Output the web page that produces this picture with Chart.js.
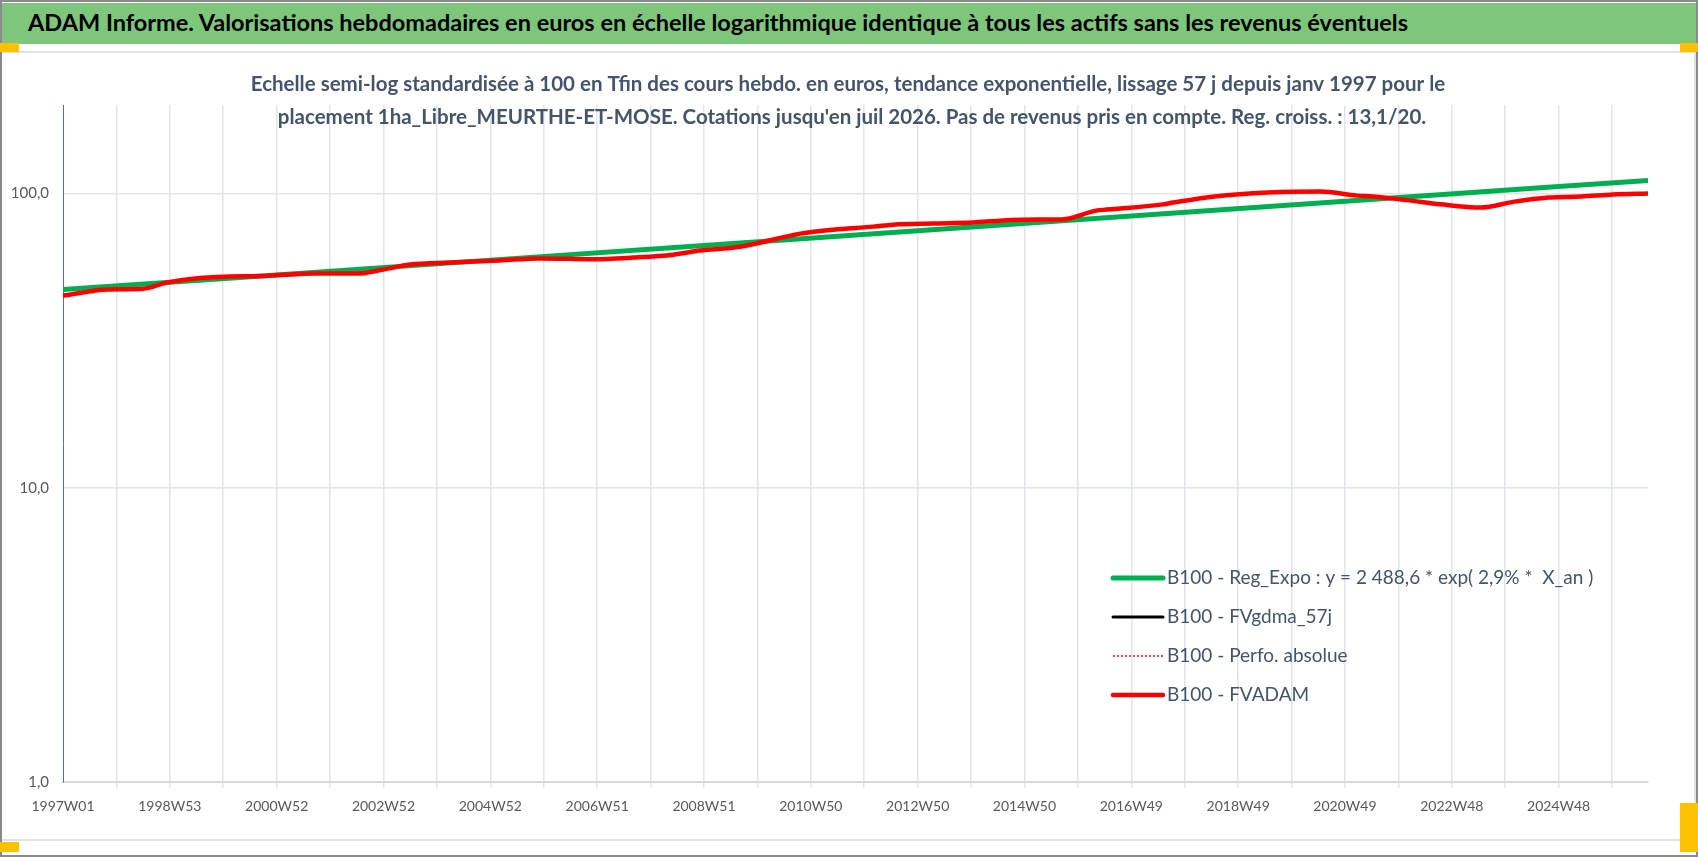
<!DOCTYPE html>
<html lang="fr">
<head>
<meta charset="utf-8">
<title>ADAM Informe</title>
<script src="https://cdn.jsdelivr.net/npm/chart.js@4.4.1/dist/chart.umd.min.js"></script>
<style>
  html, body { margin: 0; padding: 0; background: #fff; }
  #page { position: relative; width: 1698px; height: 857px; overflow: hidden; font-family: Lato, "Open Sans", sans-serif; }
  #frame { position: absolute; left: 0; top: 0; width: 1698px; height: 857px; box-sizing: border-box; border: 2px solid #8a8a8a; z-index: 3; pointer-events: none; }
  #header { position: absolute; left: 2px; top: 3px; width: 1694px; height: 41px; background: #7dc67b; }
  #header span { position: absolute; left: 26px; top: 5px; font-weight: bold; font-size: 23.5px; color: #000; white-space: nowrap; }
  #box { position: absolute; left: 2px; top: 51px; width: 1692px; height: 786px; border-top: 2px solid #e2e2e2; border-bottom: 2px solid #e2e2e2; border-right: 2px solid #e2e2e2; }
  #chart { position: absolute; left: 0; top: 0; }
  .handle { position: absolute; background: #ffc000; z-index: 4; }
</style>
</head>
<body>
<div id="page">
  <div id="header"><span>ADAM Informe. Valorisations hebdomadaires en euros en échelle logarithmique identique à tous les actifs sans les revenus éventuels</span></div>
  <div id="box"><canvas id="chart" width="1692" height="786"></canvas></div>
  <div class="handle" style="left:0;top:43px;width:19px;height:9px"></div>
  <div class="handle" style="left:1680px;top:43px;width:18px;height:9px"></div>
  <div class="handle" style="left:0;top:842px;width:19px;height:10px"></div>
  <div class="handle" style="left:1680px;top:803px;width:18px;height:49px"></div>
  <div id="frame"></div>
</div>
<script>
// tick labels (one every 104 weeks)
const xLabels = ["1997W01", "1998W53", "2000W52", "2002W52", "2004W52", "2006W51", "2008W51",
  "2010W50", "2012W50", "2014W50", "2016W49", "2018W49", "2020W49", "2022W48", "2024W48"];
const yTicks = [1, 10, 100];
const lastWeek = 1543;

const titleLines = [
  "Echelle semi-log standardisée à 100 en Tfin des cours hebdo. en euros, tendance exponentielle, lissage 57 j depuis janv 1997 pour le",
  "placement 1ha_Libre_MEURTHE-ET-MOSE. Cotations jusqu'en juil 2026. Pas de revenus pris en compte. Reg. croiss. : 13,1/20."
];

// week index since 1997W01
const regWeeks = [0, 208, 416, 624, 832, 1040, 1248, 1456, 1543];
const regValues = [47.2, 52.9, 59.4, 66.6, 74.7, 83.9, 94.1, 105.6, 110.7];

const gdmaWeeks = [];
const gdmaValues = [];

const perfoWeeks = [];
const perfoValues = [];

const adamWeeks = [0, 44, 78, 101, 133, 199, 247, 287, 312, 338, 377, 425, 464, 516, 555, 594,
  620, 659, 718, 750, 789, 808, 847, 886, 912, 951, 971, 1006, 1016, 1069, 1081, 1121, 1173,
  1224, 1260, 1275, 1308, 1341, 1380, 1413, 1446, 1478, 1509, 1543];
const adamValues = [45.0, 47.2, 47.5, 49.8, 51.6, 52.6, 53.5, 53.5, 55.2, 57.4, 58.3, 59.2, 60.2,
  59.8, 60.6, 62.0, 64.0, 66.0, 73.1, 75.4, 77.2, 78.4, 79.1, 79.7, 80.9, 81.6, 81.6, 87.5, 88.2,
  91.7, 93.2, 97.7, 100.8, 101.6, 98.4, 97.7, 95.0, 91.9, 89.6, 93.9, 96.9, 97.7, 99.2, 100];

function toPoints(xs, ys) {
  return xs.map((x, i) => ({ x: x, y: ys[i] }));
}

const textColor = "#44546a";
const gridColor = "#e1e4ea";

const titlePlugin = {
  id: "twoLineTitle",
  afterDraw(chart) {
    const ctx = chart.ctx;
    ctx.save();
    ctx.font = "bold 20.5px Lato";
    ctx.fillStyle = textColor;
    ctx.textAlign = "center";
    ctx.textBaseline = "middle";
    ctx.fillText(titleLines[0], chart.width / 2, 31);
    ctx.fillText(titleLines[1], chart.width / 2 + 4, 64);
    ctx.restore();
  }
};

// legend drawn inside the plot, bottom right
const legendPlugin = {
  id: "innerLegend",
  afterDraw(chart) {
    const ctx = chart.ctx;
    const x0 = 1111, len = 50, top = 525, step = 39;
    ctx.save();
    ctx.font = "19px Lato";
    ctx.textBaseline = "middle";
    ctx.textAlign = "left";
    chart.data.datasets.forEach((ds, i) => {
      const y = top + i * step;
      ctx.beginPath();
      ctx.strokeStyle = ds.borderColor;
      ctx.lineWidth = ds.borderWidth;
      ctx.lineCap = ds.borderDash ? "butt" : "round";
      ctx.setLineDash(ds.borderDash || []);
      ctx.moveTo(x0, y);
      ctx.lineTo(x0 + len, y);
      ctx.stroke();
      ctx.setLineDash([]);
      ctx.fillStyle = textColor;
      ctx.fillText(ds.label, x0 + len + 4, y);
    });
    ctx.restore();
  }
};

new Chart(document.getElementById("chart"), {
  type: "line",
  data: {
    datasets: [
      {
        label: "B100 - Reg_Expo : y = 2 488,6 * exp( 2,9% *  X_an )",
        data: toPoints(regWeeks, regValues),
        borderColor: "#00b050",
        borderWidth: 5,
        pointRadius: 0,
        tension: 0,
        order: 3
      },
      {
        label: "B100 - FVgdma_57j",
        data: toPoints(gdmaWeeks, gdmaValues),
        borderColor: "#000000",
        borderWidth: 3,
        pointRadius: 0,
        order: 2
      },
      {
        label: "B100 - Perfo. absolue",
        data: toPoints(perfoWeeks, perfoValues),
        borderColor: "#ff0000",
        borderWidth: 1.5,
        borderDash: [2, 2],
        pointRadius: 0,
        order: 1
      },
      {
        label: "B100 - FVADAM",
        data: toPoints(adamWeeks, adamValues),
        borderColor: "#ff0000",
        borderWidth: 4.5,
        pointRadius: 0,
        cubicInterpolationMode: "monotone",
        order: 0
      }
    ]
  },
  options: {
    responsive: false,
    animation: false,
    layout: { padding: { left: 0, right: 46, top: 52, bottom: 17 } },
    plugins: {
      legend: { display: false },
      title: { display: false },
      tooltip: { enabled: false }
    },
    scales: {
      x: {
        type: "linear",
        min: 0,
        max: lastWeek,
        afterFit: (scale) => { scale.height = 40; },
        grid: {
          color: (c) => (c.tick && c.tick.value === 0 ? "rgba(0,0,0,0)" : gridColor),
          lineWidth: 1.5,
          tickLength: 6
        },
        border: { color: "#d9d9d9", width: 2 },
        ticks: {
          stepSize: 52,
          includeBounds: false,
          autoSkip: false,
          maxRotation: 0,
          padding: 10,
          color: "#595959",
          font: { family: "Lato", size: 14 },
          callback: (v) => (v % 104 === 0 ? xLabels[v / 104] : "")
        }
      },
      y: {
        type: "logarithmic",
        min: 1,
        max: 200,
        afterFit: (scale) => { scale.width = 61; },
        afterBuildTicks: (scale) => { scale.ticks = yTicks.map((v) => ({ value: v })); },
        grid: { color: gridColor, lineWidth: 1.5, drawTicks: false },
        border: { color: "#4472c4", width: 1 },
        ticks: {
          padding: 14,
          color: "#595959",
          font: { family: "Lato", size: 15 },
          callback: (v) => v.toFixed(1).replace(".", ",")
        }
      }
    }
  },
  plugins: [titlePlugin, legendPlugin]
});
</script>
</body>
</html>
